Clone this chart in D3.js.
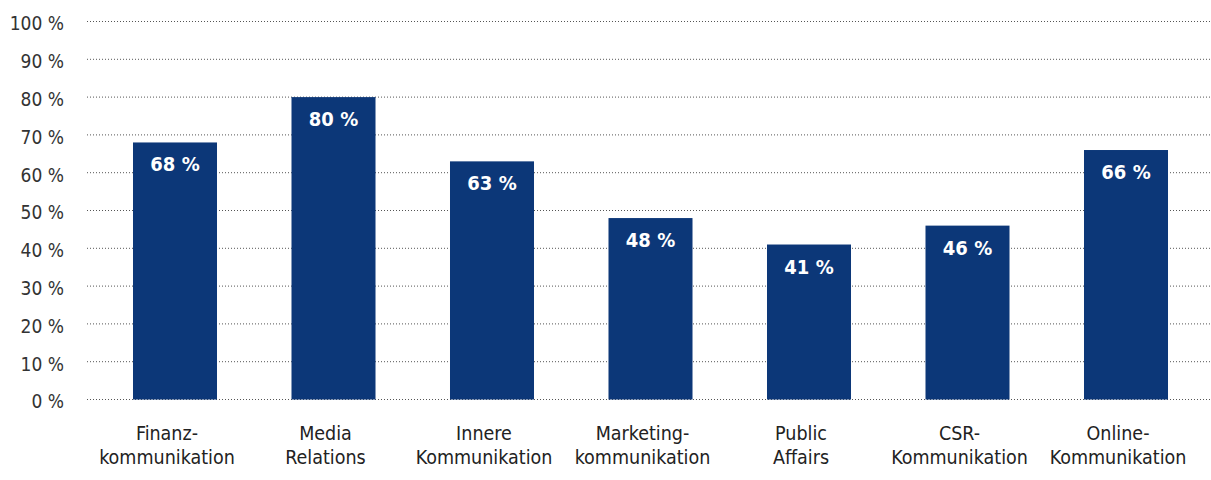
<!DOCTYPE html>
<html><head><meta charset="utf-8">
<script src="https://cdn.jsdelivr.net/npm/d3@7"></script>
<style>body{margin:0;background:#fff}svg{display:block}</style>
</head><body>
<script>
const categories = [["Finanz-","kommunikation"],["Media","Relations"],["Innere","Kommunikation"],["Marketing-","kommunikation"],["Public","Affairs"],["CSR-","Kommunikation"],["Online-","Kommunikation"]];
const values = [68, 80, 63, 48, 41, 46, 66];
const yTicks = [0,10,20,30,40,50,60,70,80,90,100];

const W = 1211, H = 480;
const svg = d3.select("body").append("svg").attr("width", W).attr("height", H);
const font = "'DejaVu Sans Condensed', 'DejaVu Sans', sans-serif";

const x = d3.scaleBand().domain(d3.range(categories.length)).range([95.75, 1205.25]).paddingInner(0.47).paddingOuter(0.235);
const y = d3.scaleLinear().domain([0, 100]).range([399.5, 21.5]);

// grid
svg.append("g").selectAll("line").data(yTicks).join("line")
  .attr("x1", 87).attr("x2", W)
  .attr("y1", d => y(d)).attr("y2", d => y(d))
  .attr("stroke", "#555").attr("stroke-width", 1).attr("stroke-dasharray", "1,2");

// y labels
svg.append("g").selectAll("text").data(yTicks).join("text")
  .attr("x", 64).attr("y", d => y(d)).attr("dy", "0.47em")
  .attr("text-anchor", "end").attr("font-family", font).attr("font-size", 19).attr("fill", "#333")
  .text(d => d + " %");

// bars
svg.append("g").selectAll("rect").data(values).join("rect")
  .attr("x", (d, i) => x(i)).attr("width", x.bandwidth())
  .attr("y", d => y(d)).attr("height", d => y(0) - y(d))
  .attr("fill", "#0c3778");

// value labels
svg.append("g").selectAll("text").data(values).join("text")
  .attr("x", (d, i) => x(i) + x.bandwidth() / 2).attr("y", d => y(d) + 29)
  .attr("text-anchor", "middle").attr("font-family", font).attr("font-weight", "bold")
  .attr("font-size", 20).attr("fill", "#fff")
  .text(d => d + " %");

// category labels
const cl = svg.append("g").selectAll("text").data(categories).join("text")
  .attr("x", (d, i) => x(i) + x.bandwidth() / 2 - 8).attr("y", 440)
  .attr("text-anchor", "middle").attr("font-family", font).attr("font-size", 19.5).attr("fill", "#222");
cl.selectAll("tspan").data(d => d).join("tspan")
  .attr("x", function() { return this.parentNode.getAttribute("x"); })
  .attr("dy", (d, i) => i === 0 ? 0 : 24).text(d => d);
</script>
</body></html>
